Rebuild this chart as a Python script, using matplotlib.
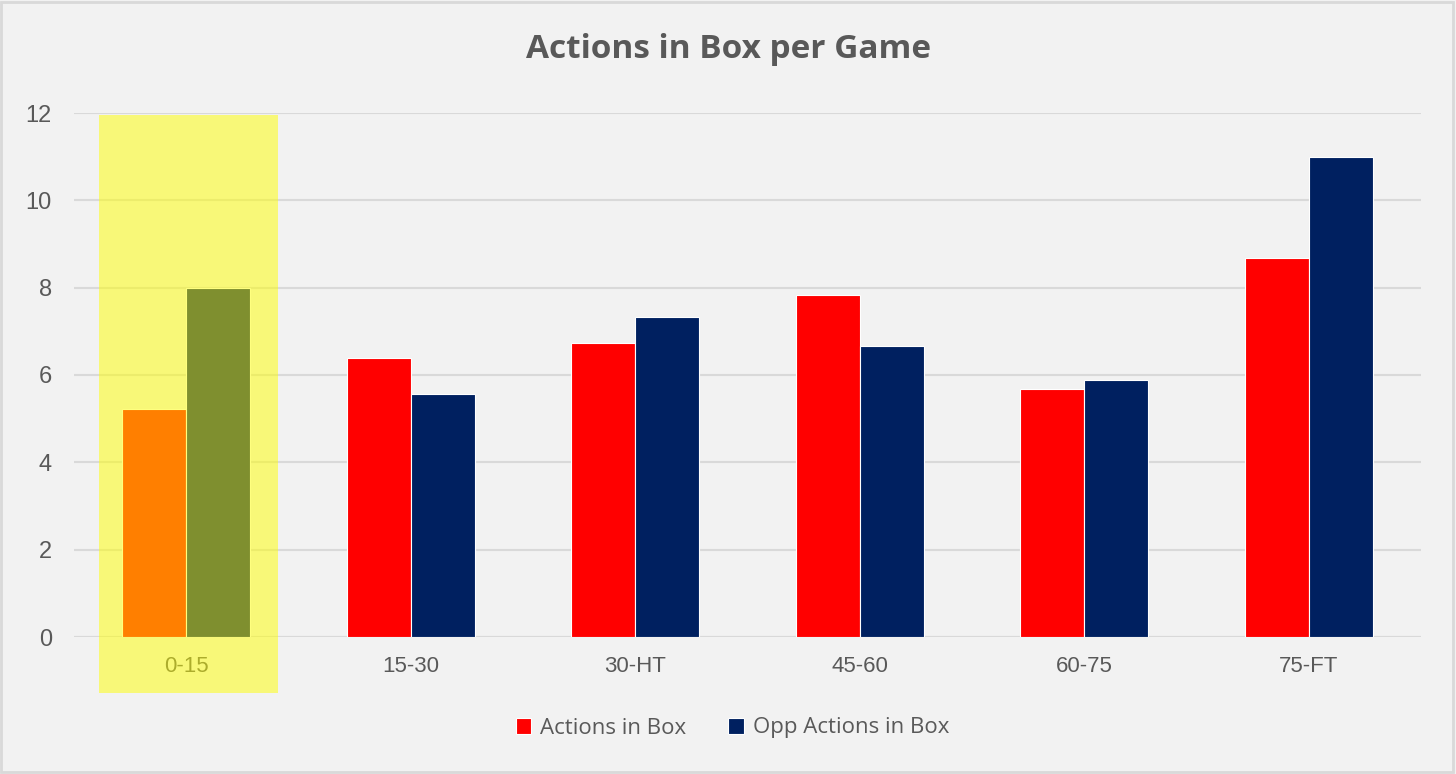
import matplotlib.pyplot as plt
import numpy as np
from matplotlib.patches import Rectangle

categories = ["0-15", "15-30", "30-HT", "45-60", "60-75", "75-FT"]
actions = [5.22, 6.39, 6.73, 7.83, 5.68, 8.68]
opp_actions = [8.0, 5.56, 7.33, 6.66, 5.89, 10.99]

plt.rcParams['font.family'] = ['Open Sans', 'DejaVu Sans']
grey = '#595959'

fig = plt.figure(figsize=(14.56, 7.74), dpi=100, facecolor='#F2F2F2')
ax = fig.add_axes([74/1456, 1 - 637/774, 1347/1456, 524/774])
ax.set_facecolor('#F2F2F2')

x = np.arange(len(categories))
w = 0.285
ax.bar(x - w/2, actions, w, color='#FF0000', edgecolor='white', linewidth=0.8,
       label='Actions in Box', zorder=3)
ax.bar(x + w/2, opp_actions, w, color='#002060', edgecolor='white', linewidth=0.8,
       label='Opp Actions in Box', zorder=3)

ax.set_xlim(-0.5, len(categories) - 0.5)
ax.set_ylim(0, 12)
ax.set_yticks(np.arange(0, 13, 2))
ax.set_xticks(x)
ax.set_xticklabels(categories)
ax.yaxis.grid(True, color='#D9D9D9', linewidth=1.5, zorder=0)
ax.tick_params(axis='both', length=0, colors=grey)
ax.tick_params(axis='x', pad=14, labelsize=16)
ax.tick_params(axis='y', pad=16, labelsize=17)
for lab in ax.get_xticklabels() + ax.get_yticklabels():
    lab.set_family(['Liberation Sans', 'DejaVu Sans'])
for s in ax.spines.values():
    s.set_visible(False)
ax.axhline(0, color='#D9D9D9', linewidth=1.5, zorder=2)

# highlight for first period
hl = Rectangle((-0.39, -1.28), 0.8, 13.23, facecolor='yellow', alpha=0.5,
               edgecolor='none', clip_on=False, zorder=10)
ax.add_patch(hl)

fig.suptitle('Actions in Box per Game', fontsize=24, fontweight='bold',
             color=grey, y=1 - 50/774, va='center')

leg = fig.legend(loc='center', bbox_to_anchor=(0.503, 1 - 728/774), ncol=2,
                 frameon=False, fontsize=16, handlelength=0.7, handleheight=0.7,
                 handletextpad=0.4, columnspacing=1.9)
for t in leg.get_texts():
    t.set_color(grey)

fig.add_artist(Rectangle((0.001, 0.002), 0.997, 0.995, transform=fig.transFigure,
                         fill=False, edgecolor='#D9D9D9', linewidth=2))

fig.savefig('out.png', dpi=100, facecolor=fig.get_facecolor())
